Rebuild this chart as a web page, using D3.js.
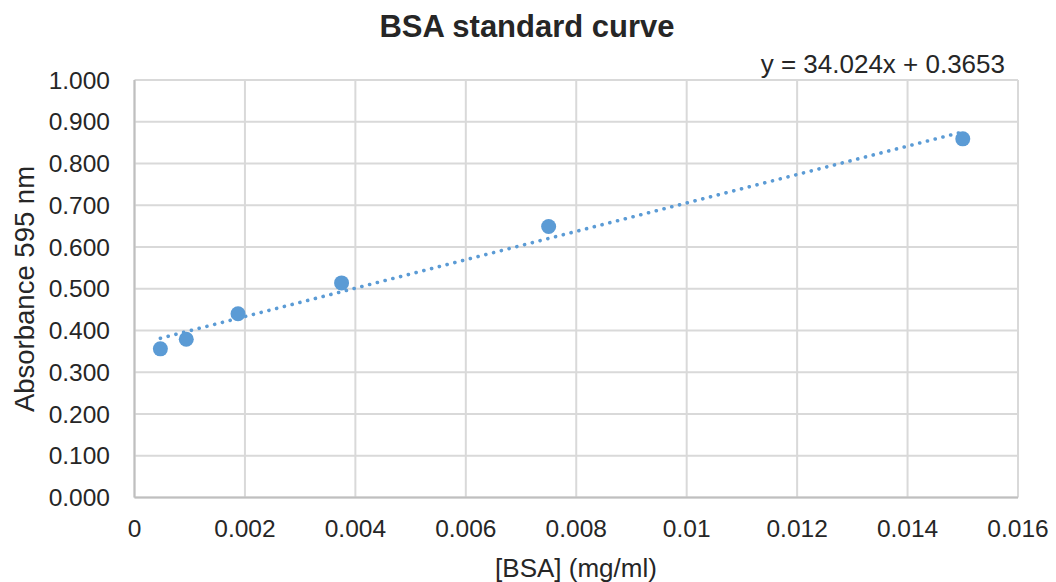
<!DOCTYPE html>
<html>
<head>
<meta charset="utf-8">
<script src="https://cdn.jsdelivr.net/npm/d3@7"></script>
<style>
  html, body { margin: 0; padding: 0; background: #fff; }
  svg { display: block; font-family: "Liberation Sans", Arial, sans-serif; }
</style>
</head>
<body>
<svg id="chart" width="1056" height="582"></svg>
<script>
// BSA concentrations (mg/ml) and measured absorbance at 595 nm
const concentrations = [0.00046875, 0.0009375, 0.001875, 0.00375, 0.0075, 0.015];
const absorbance = [0.356, 0.379, 0.440, 0.514, 0.649, 0.859];

// Linear fit reported on the chart
const slope = 34.024;
const intercept = 0.3653;

const xTicks = [0, 0.002, 0.004, 0.006, 0.008, 0.01, 0.012, 0.014, 0.016];
const xTickLabels = ["0", "0.002", "0.004", "0.006", "0.008", "0.01", "0.012", "0.014", "0.016"];
const yTicks = [0, 0.1, 0.2, 0.3, 0.4, 0.5, 0.6, 0.7, 0.8, 0.9, 1.0];

const svg = d3.select("#chart");
const plot = { left: 134.5, right: 1018, top: 80, bottom: 497.5 };

const x = d3.scaleLinear().domain([0, 0.016]).range([plot.left, plot.right]);
const y = d3.scaleLinear().domain([0, 1]).range([plot.bottom, plot.top]);

const textColor = "#262626";
const gridColor = "#d9d9d9";

// Horizontal gridlines
svg.append("g")
  .selectAll("line")
  .data(yTicks)
  .join("line")
  .attr("x1", plot.left).attr("x2", plot.right)
  .attr("y1", d => y(d)).attr("y2", d => y(d))
  .attr("stroke", gridColor).attr("stroke-width", 2);

// Vertical gridlines
svg.append("g")
  .selectAll("line")
  .data(xTicks)
  .join("line")
  .attr("x1", d => x(d)).attr("x2", d => x(d))
  .attr("y1", plot.top).attr("y2", plot.bottom)
  .attr("stroke", gridColor).attr("stroke-width", 2);

// Axis lines
svg.append("line")
  .attr("x1", plot.left).attr("x2", plot.left)
  .attr("y1", plot.top).attr("y2", plot.bottom)
  .attr("stroke", "#bfbfbf").attr("stroke-width", 2);
svg.append("line")
  .attr("x1", plot.left).attr("x2", plot.right)
  .attr("y1", plot.bottom).attr("y2", plot.bottom)
  .attr("stroke", "#bfbfbf").attr("stroke-width", 2);

// Y tick labels
svg.append("g")
  .selectAll("text")
  .data(yTicks)
  .join("text")
  .attr("x", 110)
  .attr("y", d => y(d))
  .attr("dy", "0.35em")
  .attr("text-anchor", "end")
  .attr("font-size", 24.5)
  .attr("fill", textColor)
  .text(d => d.toFixed(3));

// X tick labels
svg.append("g")
  .selectAll("text")
  .data(xTicks)
  .join("text")
  .attr("x", d => x(d))
  .attr("y", 537)
  .attr("text-anchor", "middle")
  .attr("font-size", 24.5)
  .attr("fill", textColor)
  .text((d, i) => xTickLabels[i]);

// Trendline from the fitted equation
const xMin = d3.min(concentrations), xMax = d3.max(concentrations);
svg.append("line")
  .attr("x1", x(xMin)).attr("y1", y(slope * xMin + intercept))
  .attr("x2", x(xMax)).attr("y2", y(slope * xMax + intercept))
  .attr("stroke", "#5b9bd5")
  .attr("stroke-width", 3.6)
  .attr("stroke-linecap", "round")
  .attr("stroke-dasharray", "0.1 7.9");

// Data points
svg.append("g")
  .selectAll("circle")
  .data(concentrations)
  .join("circle")
  .attr("cx", d => x(d))
  .attr("cy", (d, i) => y(absorbance[i]))
  .attr("r", 7.5)
  .attr("fill", "#5b9bd5");

// Title
svg.append("text")
  .attr("x", 527).attr("y", 37)
  .attr("text-anchor", "middle")
  .attr("font-size", 31)
  .attr("font-weight", "bold")
  .attr("fill", textColor)
  .text("BSA standard curve");

// Trendline equation
svg.append("text")
  .attr("x", 1005).attr("y", 73)
  .attr("text-anchor", "end")
  .attr("font-size", 26)
  .attr("fill", textColor)
  .text(`y = ${slope}x + ${intercept}`);

// Axis titles
svg.append("text")
  .attr("transform", "translate(34,289) rotate(-90)")
  .attr("text-anchor", "middle")
  .attr("font-size", 27.5)
  .attr("fill", textColor)
  .text("Absorbance 595 nm");

svg.append("text")
  .attr("x", 576).attr("y", 577)
  .attr("text-anchor", "middle")
  .attr("font-size", 26)
  .attr("fill", textColor)
  .text("[BSA] (mg/ml)");
</script>
</body>
</html>
